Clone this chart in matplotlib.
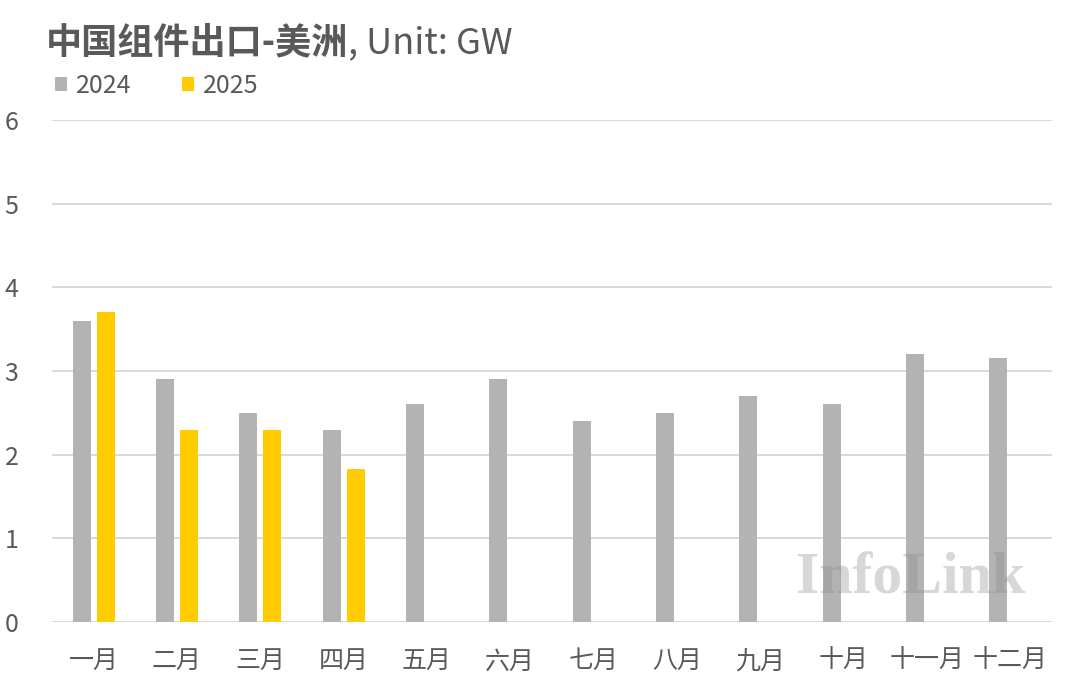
import numpy as np
import matplotlib.pyplot as plt

plt.rcParams['font.family'] = ['Noto Sans CJK SC', 'DejaVu Sans']

# données
mois = ['一月', '二月', '三月', '四月', '五月', '六月',
        '七月', '八月', '九月', '十月', '十一月', '十二月']
v2024 = [3.6, 2.9, 2.5, 2.3, 2.6, 2.9, 2.4, 2.5, 2.7, 2.6, 3.2, 3.15]
v2025 = [3.7, 2.3, 2.3, 1.83]
yticks = [0, 1, 2, 3, 4, 5, 6]

gris = '#b3b3b3'
jaune = '#ffcc00'
texte = '#595959'

fig = plt.figure(figsize=(10.8, 6.9), dpi=100)
ax = fig.add_axes([0.048, 0.0986, 0.926, 0.7274])

x = np.arange(len(mois))
largeur = 0.216
ax.bar(x - 0.144, v2024, largeur, color=gris, label='2024', zorder=2)
ax.bar(x[:len(v2025)] + 0.144, v2025, largeur, color=jaune, label='2025', zorder=2)

ax.set_xlim(-0.5, 11.5)
ax.set_ylim(0, 6)
ax.set_yticks(yticks)
ax.set_xticks(x)
ax.set_xticklabels(mois)
ax.tick_params(axis='both', length=0, colors=texte)
ax.tick_params(axis='x', pad=19, labelsize=18)
ax.tick_params(axis='y', pad=24, labelsize=18)

ax.grid(axis='y', color='#d9d9d9', linewidth=1.4, zorder=0)
ax.set_axisbelow(True)
for s in ax.spines.values():
    s.set_visible(False)

# titre en deux morceaux (chinois plus gras)
t1 = fig.text(0.042, 0.938, '中国组件出口-美洲', fontsize=26, fontweight='bold',
              color=texte, va='center', ha='left')
fig.canvas.draw()
bb = t1.get_window_extent()
fig.text(bb.x1 / fig.bbox.width, 0.938, ', Unit: GW', fontsize=26,
         color=texte, va='center', ha='left')

# légende
leg = fig.legend(loc='center left', bbox_to_anchor=(0.051, 0.875), ncol=2,
                 frameon=False, fontsize=18, handlelength=0.48, handleheight=0.48,
                 handletextpad=0.36, columnspacing=2.0, labelcolor=texte,
                 borderpad=0, borderaxespad=0)

# filigrane
fig.text(0.843, 0.16, 'InfoLink', fontsize=43, family='Liberation Serif',
         fontweight='bold', color='#888888', alpha=0.33, ha='center', va='center',
         zorder=5)

fig.savefig('out.png', dpi=100)
